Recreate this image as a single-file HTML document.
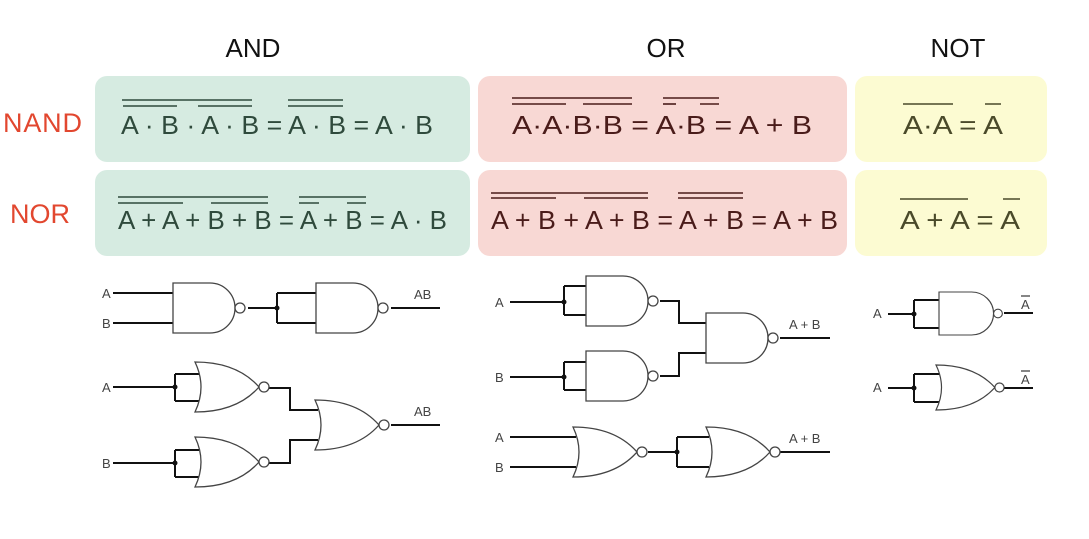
<!DOCTYPE html>
<html><head><meta charset="utf-8"><style>
html,body{margin:0;padding:0;background:#fff;}
svg{display:block;}
text{font-family:"Liberation Sans",sans-serif;}
</style></head><body>
<svg width="1089" height="539" viewBox="0 0 1089 539" xmlns="http://www.w3.org/2000/svg">
<defs>
<g id="nand"><path d="M0,0 H37 A25,25 0 0 1 37,50 H0 Z" fill="#fff" stroke="#444" stroke-width="1.3"/><circle cx="67" cy="25" r="5" fill="#fff" stroke="#444" stroke-width="1.3"/></g>
<g id="nor"><path d="M0,0 Q42,0 64,25 Q42,50 0,50 Q12,25 0,0 Z" fill="#fff" stroke="#444" stroke-width="1.3"/><circle cx="69" cy="25" r="5" fill="#fff" stroke="#444" stroke-width="1.3"/></g>
</defs>
<!-- headings -->
<text x="253" y="57" font-size="26" text-anchor="middle" fill="#111">AND</text>
<text x="666" y="57" font-size="26" text-anchor="middle" fill="#111">OR</text>
<text x="958" y="57" font-size="26" text-anchor="middle" fill="#111">NOT</text>
<text x="3" y="132" font-size="27" fill="#e2472f" textLength="79">NAND</text>
<text x="10" y="223" font-size="27" fill="#e2472f" textLength="60">NOR</text>
<!-- boxes -->
<rect x="95" y="76" width="375" height="86" rx="12" fill="#d6ebe1"/>
<rect x="95" y="170" width="375" height="86" rx="12" fill="#d6ebe1"/>
<rect x="478" y="76" width="369" height="86" rx="12" fill="#f8d8d4"/>
<rect x="478" y="170" width="369" height="86" rx="12" fill="#f8d8d4"/>
<rect x="855" y="76" width="192" height="86" rx="12" fill="#fcfbd2"/>
<rect x="855" y="170" width="192" height="86" rx="12" fill="#fcfbd2"/>
<!-- green row1 -->
<g fill="#2f4a3c" font-size="26">
<text x="121" y="134" textLength="312" lengthAdjust="spacingAndGlyphs">A · B · A · B = A · B = A · B</text>
<text x="118" y="229" textLength="329" lengthAdjust="spacingAndGlyphs">A + A + B + B = A + B = A · B</text>
</g>
<g stroke="#2f4a3c" stroke-width="1.6">
<line x1="122" y1="100" x2="252" y2="100"/><line x1="123" y1="106" x2="177" y2="106"/><line x1="198" y1="106" x2="252" y2="106"/>
<line x1="288" y1="100" x2="343" y2="100"/><line x1="288" y1="106" x2="343" y2="106"/>
<line x1="118" y1="197" x2="268" y2="197"/><line x1="118" y1="203" x2="183" y2="203"/><line x1="211" y1="203" x2="268" y2="203"/>
<line x1="299" y1="197" x2="366" y2="197"/><line x1="299" y1="203" x2="319" y2="203"/><line x1="347" y1="203" x2="366" y2="203"/>
</g>
<!-- red -->
<g fill="#4a1c1a" font-size="26">
<text x="512" y="134" textLength="300" lengthAdjust="spacingAndGlyphs">A·A·B·B = A·B = A + B</text>
<text x="491" y="229" textLength="347" lengthAdjust="spacingAndGlyphs">A + B + A + B = A + B = A + B</text>
</g>
<g stroke="#4a1c1a" stroke-width="1.6">
<line x1="512" y1="98" x2="632" y2="98"/><line x1="512" y1="104" x2="566" y2="104"/><line x1="583" y1="104" x2="632" y2="104"/>
<line x1="663" y1="98" x2="719" y2="98"/><line x1="663" y1="104" x2="676" y2="104"/><line x1="700" y1="104" x2="719" y2="104"/>
<line x1="491" y1="193" x2="648" y2="193"/><line x1="491" y1="198" x2="556" y2="198"/><line x1="584" y1="198" x2="648" y2="198"/>
<line x1="678" y1="193" x2="743" y2="193"/><line x1="678" y1="198" x2="743" y2="198"/>
</g>
<!-- yellow -->
<g fill="#4a4a2a" font-size="26">
<text x="903" y="134" textLength="100" lengthAdjust="spacingAndGlyphs">A·A = A</text>
<text x="900" y="229" textLength="120" lengthAdjust="spacingAndGlyphs">A + A = A</text>
</g>
<g stroke="#4a4a2a" stroke-width="1.5">
<line x1="903" y1="104" x2="953" y2="104"/><line x1="985" y1="104" x2="1001" y2="104"/>
<line x1="900" y1="199" x2="968" y2="199"/><line x1="1003" y1="199" x2="1020" y2="199"/>
</g>
<!-- circuits wires -->
<g stroke="#111" stroke-width="2" fill="none">
<!-- AND via NAND -->
<path d="M113,293 H173 M113,323 H173 M248,308 H277 M277,293 V323 M277,293 H316 M277,323 H316 M391,308 H440"/>
<!-- AND via NOR -->
<path d="M113,387 H175 M175,374 V401 M175,374 H199 M175,401 H199 M269,388 H290 V410 H318 M391,425 H440"/>
<path d="M113,463 H175 M175,450 V477 M175,450 H199 M175,477 H199 M269,463 H290 V440 H318"/>
<!-- OR via NAND -->
<path d="M510,302 H564 M564,286 V315 M564,286 H586 M564,315 H586 M660,301 H679 V323 H706"/>
<path d="M510,377 H564 M564,362 V390 M564,362 H586 M564,390 H586 M660,376 H679 V353 H706 M780,338 H830"/>
<!-- OR via NOR -->
<path d="M510,437 H576 M510,467 H576 M648,452 H677 M677,437 V467 M677,437 H709 M677,467 H709 M780,452 H830"/>
<!-- NOT -->
<path d="M888,314 H914 M914,300 V328 M914,300 H939 M914,328 H939 M1004,313 H1033"/>
<path d="M888,388 H914 M914,374 V402 M914,374 H941 M914,402 H941 M1004,388 H1033"/>
</g>
<g fill="#111">
<circle cx="277" cy="308" r="2.5"/><circle cx="175" cy="387" r="2.5"/><circle cx="175" cy="463" r="2.5"/>
<circle cx="564" cy="302" r="2.5"/><circle cx="564" cy="377" r="2.5"/><circle cx="677" cy="452" r="2.5"/>
<circle cx="914" cy="314" r="2.5"/><circle cx="914" cy="388" r="2.5"/>
</g>
<!-- gates -->
<use href="#nand" x="173" y="283"/>
<use href="#nand" x="316" y="283"/>
<use href="#nor" x="195" y="362"/>
<use href="#nor" x="195" y="437"/>
<use href="#nor" x="315" y="400"/>
<use href="#nand" x="586" y="276"/>
<use href="#nand" x="586" y="351"/>
<use href="#nand" x="706" y="313"/>
<use href="#nor" x="573" y="427"/>
<use href="#nor" x="706" y="427"/>
<g transform="translate(939,292) scale(0.88,0.86)"><use href="#nand"/></g>
<g transform="translate(936,365) scale(0.92,0.9)"><use href="#nor"/></g>
<!-- labels -->
<g fill="#444" font-size="13">
<text x="102" y="298">A</text><text x="102" y="328">B</text>
<text x="414" y="299">AB</text>
<text x="102" y="392">A</text><text x="102" y="468">B</text>
<text x="414" y="416">AB</text>
<text x="495" y="307">A</text><text x="495" y="382">B</text>
<text x="789" y="329">A + B</text>
<text x="495" y="442">A</text><text x="495" y="472">B</text>
<text x="789" y="443">A + B</text>
<text x="873" y="318">A</text><text x="873" y="392">A</text>
<text x="1021" y="309">A</text><text x="1021" y="384">A</text>
</g>
<g stroke="#444" stroke-width="1.3"><line x1="1021" y1="296" x2="1030" y2="296"/><line x1="1021" y1="371" x2="1030" y2="371"/></g>
</svg>
</body></html>
